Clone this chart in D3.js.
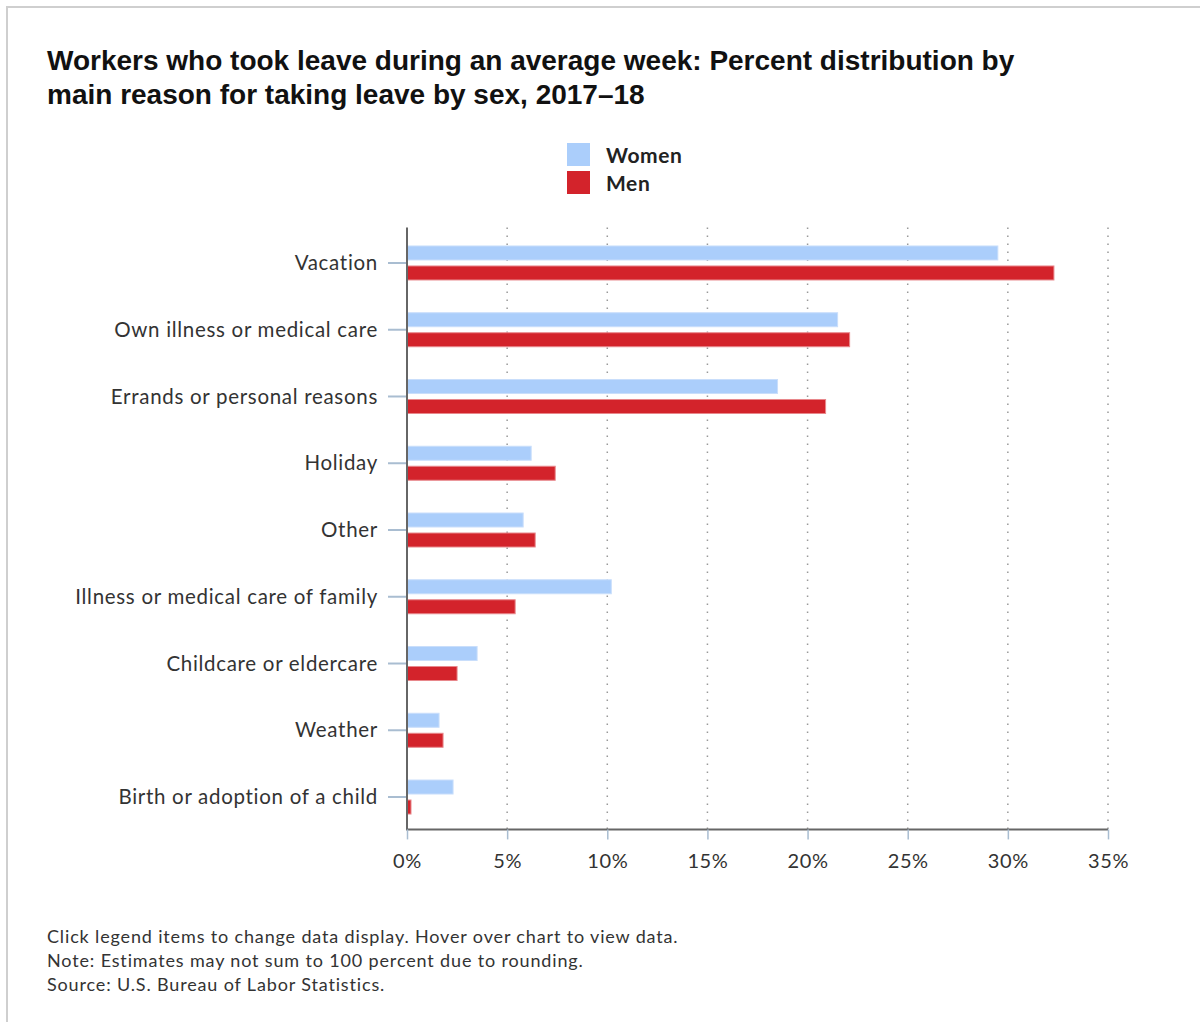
<!DOCTYPE html>
<html><head><meta charset="utf-8">
<script src="https://cdn.jsdelivr.net/npm/d3@7"></script>
<style>body{margin:0;background:#fff;}svg{display:block;}</style>
</head><body>
<svg id="chart" width="1200" height="1022"></svg>
<script>
const categories = ["Vacation","Own illness or medical care","Errands or personal reasons","Holiday","Other","Illness or medical care of family","Childcare or eldercare","Weather","Birth or adoption of a child"];
const seriesNames = ["Women","Men"];
const women = [29.5,21.5,18.5,6.2,5.8,10.2,3.5,1.6,2.3];
const men = [32.3,22.1,20.9,7.4,6.4,5.4,2.5,1.8,0.2];
const xTicks = [0,5,10,15,20,25,30,35];
const titleLines = ["Workers who took leave during an average week: Percent distribution by","main reason for taking leave by sex, 2017–18"];
const footLines = ["Click legend items to change data display. Hover over chart to view data.","Note: Estimates may not sum to 100 percent due to rounding.","Source: U.S. Bureau of Labor Statistics."];
const colors = ["#abcefb","#d3232b"];
const strokes = ["#c9defb","#e8888c"];

const svg = d3.select("#chart");
const labelFont = "Lato, 'Open Sans', sans-serif";

// frame
svg.append("rect").attr("x",7).attr("y",7).attr("width",1300).attr("height",1100)
  .attr("fill","none").attr("stroke","#cfcfcf").attr("stroke-width",2);

// title
svg.append("g").selectAll("text").data(titleLines).join("text")
  .attr("x",47).attr("y",(d,i)=>70+i*34)
  .attr("font-family","'Liberation Sans', Arial, sans-serif").attr("font-weight","bold")
  .attr("font-size",28).attr("fill","#111").text(d=>d);

// legend
const leg = svg.append("g").selectAll("g").data(seriesNames).join("g")
  .attr("transform",(d,i)=>`translate(567,${143+i*28})`);
leg.append("rect").attr("width",23).attr("height",23).attr("fill",(d,i)=>colors[i]);
leg.append("text").attr("x",39).attr("y",20).attr("font-family",labelFont).attr("font-weight","bold")
  .attr("font-size",21).attr("letter-spacing",0.6).attr("fill","#222").text(d=>d);

const x0=407, x1=1108, yTop=229.6, yBot=830.4;
const x = d3.scaleLinear().domain([0,35]).range([x0,x1]);
const y = d3.scaleBand().domain(categories).range([yTop,yBot]);
const barH = 14, gap = 6;

// grid
svg.append("g").selectAll("line").data(xTicks.filter(t=>t>0)).join("line")
  .attr("x1",d=>x(d)).attr("x2",d=>x(d)).attr("y1",yTop-2).attr("y2",yBot)
  .attr("stroke","#999").attr("stroke-width",1.5).attr("stroke-dasharray","1.5,6.5");

// bars
const data = categories.map((c,i)=>({c, vals:[women[i],men[i]]}));
const groups = svg.append("g").selectAll("g").data(data).join("g");
groups.selectAll("rect").data(d=>d.vals.map((v,k)=>({c:d.c,v,k}))).join("rect")
  .attr("x",x(0)).attr("width",d=>x(d.v)-x(0))
  .attr("y",d=>y(d.c)+y.bandwidth()/2 + (d.k===0 ? -gap/2-barH : gap/2))
  .attr("height",barH).attr("fill",d=>colors[d.k])
  .attr("stroke",d=>strokes[d.k]).attr("stroke-width",1);

// y axis
const yAxis = svg.append("g").attr("transform",`translate(${x0},0)`)
  .call(d3.axisLeft(y).tickSize(18).tickPadding(11));
yAxis.select(".domain").remove();
yAxis.selectAll(".tick line").attr("stroke","#a9bdd1").attr("stroke-width",2).attr("x2",-19);
yAxis.selectAll(".tick text").attr("font-family",labelFont).attr("font-size",20.5).attr("letter-spacing",0.7)
  .attr("fill","#333").attr("dy","0.35em");
svg.append("line").attr("x1",x0).attr("x2",x0).attr("y1",yTop-2).attr("y2",yBot).attr("stroke","#666").attr("stroke-width",2);

// x axis
const xAxis = svg.append("g").attr("transform",`translate(0,${yBot-1})`)
  .call(d3.axisBottom(x).tickValues(xTicks).tickFormat(d=>d+"%").tickSize(10).tickPadding(14));
xAxis.select(".domain").attr("stroke","#666").attr("stroke-width",2).attr("d",`M${x0},0H${x1}`);
xAxis.selectAll(".tick line").attr("stroke","#a9bdd1").attr("stroke-width",1.5);
xAxis.selectAll(".tick text").attr("font-family",labelFont).attr("font-size",20).attr("letter-spacing",0.6).attr("fill","#333");

// footer
svg.append("g").selectAll("text").data(footLines).join("text")
  .attr("x",47).attr("y",(d,i)=>943+i*24)
  .attr("font-family",labelFont).attr("font-size",18).attr("letter-spacing",0.85).attr("fill","#333").text(d=>d);
</script>
</body></html>
